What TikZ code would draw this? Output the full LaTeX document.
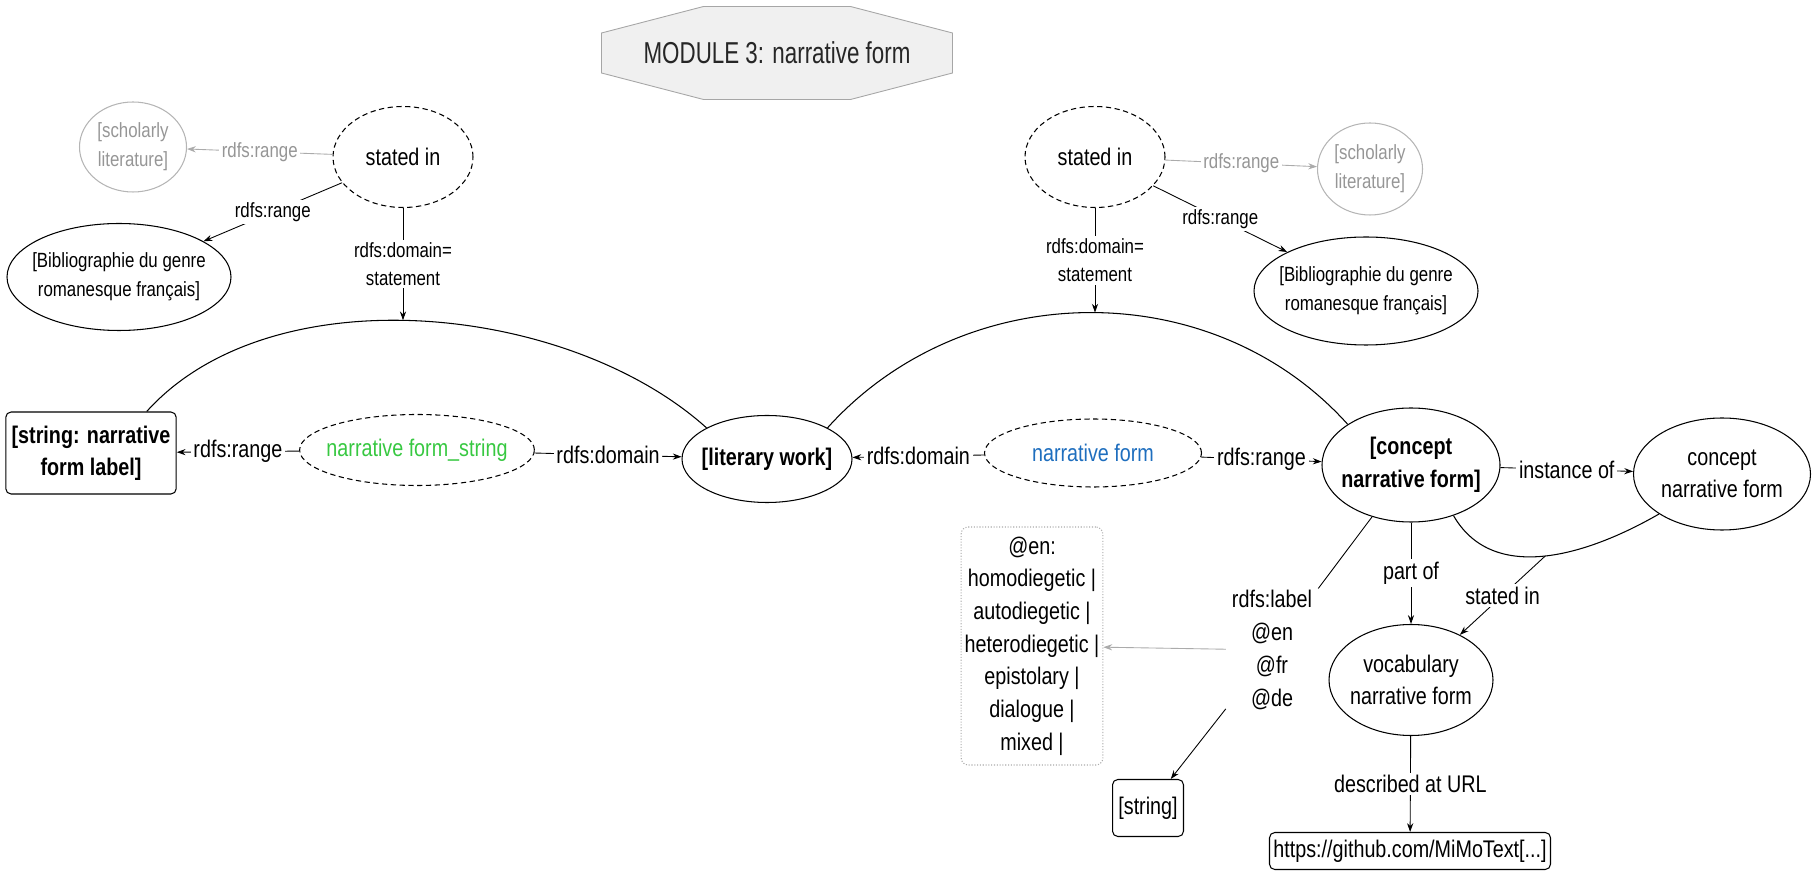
\documentclass[tikz,border=0pt]{standalone}
\usepackage{fontspec}
\setmainfont{Liberation Sans}[FakeStretch=0.82]
\newfontfamily\modulefont{Liberation Sans}[FakeStretch=0.74]
\usetikzlibrary{arrows.meta, shapes, calc}
\definecolor{formgreen}{RGB}{55,200,65}
\definecolor{formblue}{RGB}{30,110,190}
\definecolor{litgrey}{RGB}{150,150,150}

\begin{document}
\begin{tikzpicture}[
    ent/.style={ellipse, draw, line width=0.6pt, inner xsep=-0.15cm, inner ysep=0pt, align=center, font=\fontsize{13.7}{18}\selectfont},
    prop/.style={ent, densely dashed},
    src/.style={ent, font=\fontsize{11.7}{16.5}\selectfont},
    faded/.style={src, draw=litgrey!70, text=litgrey},
    lit/.style={rectangle, rounded corners=3pt, draw, line width=0.6pt, align=center, font=\fontsize{13.7}{18}\selectfont},
    lbl/.style={fill=white, inner sep=1.5pt, align=center, font=\fontsize{13.7}{18}\selectfont},
    slbl/.style={lbl, font=\fontsize{11.7}{16}\selectfont},
    arrow/.style={->, >={Stealth[length=5pt,width=3.5pt]}, line width=0.5pt},
    garrow/.style={arrow, draw=litgrey!80}
]
    \useasboundingbox (0,0) rectangle (36.34,17.46);

    % module title
    \coordinate (modc) at (15.54,16.40);
    \filldraw[draw=gray!70, fill=gray!12, line width=0.5pt] ($(modc)+(-1.47,0.93)$) -- ++(2.94,0) -- ++(2.04,-0.53) -- ++(0,-0.80)
        -- ++(-2.04,-0.53) -- ++(-2.94,0) -- ++(-2.04,0.53) -- ++(0,0.80) -- cycle;
    \node[font=\modulefont\fontsize{17.2}{20}\selectfont, text=black!85] (module) at (modc) {MODULE 3: narrative form};

    % statements, left
    \node[faded, minimum width=2.14cm, minimum height=1.80cm] (schL) at (2.66,14.52) {[scholarly\\literature]};
    \node[prop, minimum width=2.80cm, minimum height=2.02cm] (stL) at (8.06,14.32) {stated in};
    \node[src, minimum width=4.44cm, minimum height=2.14cm] (bibL) at (2.38,11.92) {[Bibliographie du genre\\romanesque français]};

    % statements, right
    \node[prop, minimum width=2.80cm, minimum height=2.02cm] (stR) at (21.90,14.32) {stated in};
    \node[faded, minimum width=2.10cm, minimum height=1.84cm] (schR) at (27.40,14.08) {[scholarly\\literature]};
    \node[src, minimum width=4.42cm, minimum height=2.16cm] (bibR) at (27.32,11.64) {[Bibliographie du genre\\romanesque français]};

    % main row
    \node[lit, font=\bfseries\fontsize{13.7}{18}\selectfont, minimum width=3.28cm, minimum height=1.64cm] (strbox) at (1.82,8.40) {[string: narrative\\form label]};
    \node[prop, text=formgreen, minimum width=4.66cm, minimum height=1.42cm] (nfs) at (8.34,8.46) {narrative form\_string};
    \node[ent, font=\bfseries\fontsize{13.7}{18}\selectfont, minimum width=3.40cm, minimum height=1.74cm] (work) at (15.34,8.28) {[literary work]};
    \node[prop, text=formblue, minimum width=4.34cm, minimum height=1.36cm] (nf) at (21.86,8.40) {narrative form};
    \node[ent, font=\bfseries\fontsize{13.7}{19}\selectfont, minimum width=3.56cm, minimum height=2.28cm] (concept) at (28.22,8.16) {[concept\\narrative form]};
    \node[ent, minimum width=3.54cm, minimum height=2.24cm] (rconcept) at (34.44,7.98) {concept\\narrative form};

    % lower part
    \node[lit, draw=litgrey!80, densely dotted, rounded corners=4pt, inner sep=2pt, minimum width=2.78cm, minimum height=4.76cm,
        font=\fontsize{13.7}{18.6}\selectfont] (enbox) at (20.64,4.54)
        {@en:\\homodiegetic |\\autodiegetic |\\heterodiegetic |\\epistolary |\\dialogue |\\mixed |};
    \node[align=center, font=\fontsize{13.7}{18.7}\selectfont] (lbltext) at (25.44,4.46) {rdfs:label\\@en\\@fr\\@de};
    \node[lit, minimum width=1.34cm, minimum height=1.14cm] (strsmall) at (22.96,1.30) {[string]};
    \node[ent, minimum width=3.28cm, minimum height=2.22cm] (vocab) at (28.22,3.86) {vocabulary\\narrative form};
    \node[lit, inner sep=2pt, minimum width=5.62cm, minimum height=0.74cm] (url) at (28.20,0.44) {https://github.com/MiMoText[...]};

    % reification arcs
    \draw[line width=0.6pt] ([xshift=-0.6cm]strbox.north east) to[out=48, in=138, looseness=0.85] coordinate[pos=0.46] (stmtL) (work.north west);
    \draw[line width=0.6pt] (work.north east) to[out=48, in=132] coordinate[pos=0.5] (stmtR) (concept.north west);
    \draw[line width=0.6pt] (concept.-50) to[out=-60, in=-150] coordinate[pos=0.5] (stmtB) (rconcept.south west);

    % arrows, top
    \draw[garrow] (stL) -- node[slbl, text=litgrey]{rdfs:range} (schL);
    \draw[arrow] (stL) -- node[slbl]{rdfs:range} (bibL);
    \draw[arrow] (stL) -- node[slbl]{rdfs:domain=\\statement} (stL |- stmtL);
    \draw[garrow] (stR) -- node[slbl, text=litgrey]{rdfs:range} (schR);
    \draw[arrow] (stR) -- node[slbl]{rdfs:range} (bibR);
    \draw[arrow] (stR) -- node[slbl]{rdfs:domain=\\statement} (stR |- stmtR);

    % arrows, main row
    \draw[arrow] (nfs) -- node[lbl]{rdfs:range} (strbox);
    \draw[arrow] (nfs) -- node[lbl]{rdfs:domain} (work);
    \draw[arrow] (nf) -- node[lbl]{rdfs:domain} (work);
    \draw[arrow] (nf) -- node[lbl]{rdfs:range} (concept);
    \draw[arrow] (concept) -- node[lbl]{instance of} (rconcept);

    % arrows, bottom
    \draw[line width=0.5pt] (concept) -- (lbltext);
    \draw[garrow] (lbltext) -- (enbox);
    \draw[arrow] (lbltext) -- (strsmall);
    \draw[arrow] (concept) -- node[lbl]{part of} (vocab);
    \draw[arrow] (stmtB) -- node[lbl]{stated in} (vocab);
    \draw[arrow] (vocab) -- node[lbl]{described at URL} (url);
\end{tikzpicture}
\end{document}
